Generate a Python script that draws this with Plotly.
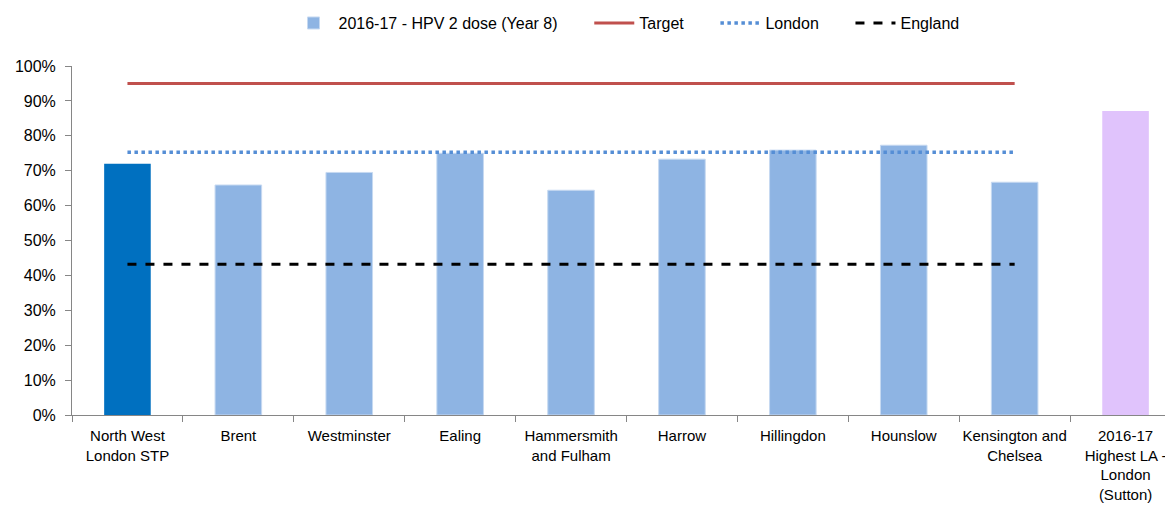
import plotly.graph_objects as go

categories = [
    "North West<br>London STP", "Brent", "Westminster", "Ealing",
    "Hammersmith<br>and Fulham", "Harrow", "Hillingdon", "Hounslow",
    "Kensington and<br>Chelsea", "2016-17<br>Highest LA -<br>London<br>(Sutton)",
]
hpv_2dose = [72.0, 65.9, 69.5, 75.0, 64.4, 73.3, 75.9, 77.3, 66.7, 87.1]
target = [95, 95, 95, 95, 95, 95, 95, 95, 95]
london = [75.3, 75.3, 75.3, 75.3, 75.3, 75.3, 75.3, 75.3, 75.3]
england = [43.2, 43.2, 43.2, 43.2, 43.2, 43.2, 43.2, 43.2, 43.2]

font = "Liberation Sans Narrow, Arial Narrow, Liberation Sans, sans-serif"
axis_grey = "#868686"
pad = "\u00a0" * 6  # extra room between legend entries

fig = go.Figure()

# light blue LA bars carry the legend entry
fig.add_trace(go.Bar(
    x=categories[1:9], y=hpv_2dose[1:9], name="2016-17 - HPV 2 dose (Year 8)" + pad,
    marker=dict(color="#8EB4E3", line=dict(color="#C6D9F1", width=1)), width=0.42,
))
fig.add_trace(go.Bar(
    x=categories[:1], y=hpv_2dose[:1], showlegend=False,
    marker=dict(color="#0070C0", line=dict(width=0)), width=0.42,
))
fig.add_trace(go.Bar(
    x=categories[9:], y=hpv_2dose[9:], showlegend=False,
    marker=dict(color="#E0C3FC", line=dict(width=0)), width=0.42,
))

fig.add_trace(go.Scatter(
    x=categories[:9], y=target, name="Target" + pad, mode="lines",
    line=dict(color="#C0504D", width=3),
))
fig.add_trace(go.Scatter(
    x=categories[:9], y=london, name="London" + pad, mode="lines",
    line=dict(color="#558ED5", width=3.5, dash="dot"),
))
fig.add_trace(go.Scatter(
    x=categories[:9], y=england, name="England", mode="lines",
    line=dict(color="black", width=3, dash="dash"),
))

fig.update_layout(
    width=1173, height=507,
    margin=dict(l=64, r=0, t=58, b=100, autoexpand=False),
    barmode="overlay",
    plot_bgcolor="white", paper_bgcolor="white",
    font=dict(family=font, size=14, color="black"),
    legend=dict(orientation="h", x=0.5, xanchor="center", y=1.123, yanchor="middle",
                itemwidth=40, font=dict(size=16), tracegroupgap=0),
    xaxis=dict(
        categoryorder="array", categoryarray=categories,
        range=[-0.5, 9.5], showline=True, linecolor=axis_grey, linewidth=1,
        ticks="outside", tickson="boundaries", ticklen=6, tickcolor=axis_grey,
        showgrid=False, tickangle=0, tickfont=dict(size=15), ticklabelstandoff=7,
        automargin=False,
    ),
    yaxis=dict(
        range=[0, 100], dtick=10, ticksuffix="%", showline=True, linecolor=axis_grey,
        linewidth=1, ticks="outside", ticklen=6, tickcolor=axis_grey,
        showgrid=False, zeroline=False, tickfont=dict(size=16), ticklabelstandoff=6,
        automargin=False,
    ),
)

fig.write_html("out.html")
